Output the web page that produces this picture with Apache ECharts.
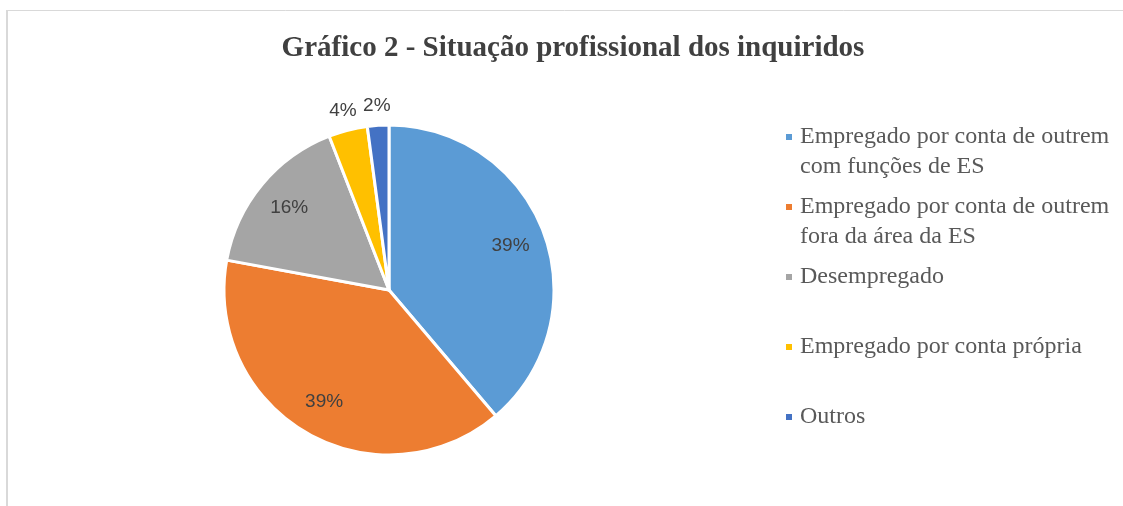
<!DOCTYPE html>
<html>
<head>
  <meta charset="UTF-8">
  <title>Gráfico 2 - Situação profissional dos inquiridos</title>
  <style>
    html, body { margin: 0; padding: 0; background: #fff; }
    #chart { width: 1123px; height: 506px; }
  </style>
  <script src="https://cdn.jsdelivr.net/npm/echarts@6/dist/echarts.min.js"></script>
</head>
<body>
  <div id="chart"></div>
  <script>
    // categories and values (in % of respondents)
    var categories = [
      'Empregado por conta de outrem\ncom funções de ES',
      'Empregado por conta de outrem\nfora da área da ES',
      'Desempregado',
      'Empregado por conta própria',
      'Outros'
    ];
    var values = [38.8, 39.1, 16.2, 3.8, 2.1];
    var colors = ['#5B9BD5', '#ED7D31', '#A5A5A5', '#FFC000', '#4472C4'];
    // which slices get their label outside the pie
    var outsideLabel = [false, false, false, true, true];

    var myChart = echarts.init(document.getElementById('chart'));

    var pieData = categories.map(function (c, i) {
      return { name: c, value: values[i], itemStyle: { color: colors[i] } };
    });

    function labelData(outside) {
      return categories.map(function (c, i) {
        return {
          name: c,
          value: values[i],
          label: { show: outsideLabel[i] === outside }
        };
      });
    }

    var labelStyle = {
      position: 'inside',
      formatter: function (p) { return Math.round(p.percent) + '%'; },
      fontFamily: 'Liberation Sans',
      fontSize: 19,
      color: '#404040'
    };

    var option = {
      backgroundColor: '#fff',
      animation: false,
      title: {
        text: 'Gráfico 2 - Situação profissional dos inquiridos',
        left: 568,
        top: 29,
        textAlign: 'center',
        textStyle: {
          fontFamily: 'Liberation Serif',
          fontWeight: 'bold',
          fontSize: 29,
          color: '#404040'
        }
      },
      legend: {
        orient: 'vertical',
        left: 784,
        top: 92,
        padding: 0,
        itemGap: -20,
        itemWidth: 8,
        itemHeight: 8,
        icon: 'rect',
        selectedMode: false,
        data: categories,
        formatter: function (name) {
          // blank first line keeps the marker on the first text line
          return name.indexOf('\n') < 0 ? '\n' + name + '\n' : '\n' + name;
        },
        textStyle: {
          fontFamily: 'Liberation Serif',
          fontSize: 24,
          lineHeight: 30,
          color: '#595959',
          padding: [0, 0, 0, 2]
        }
      },
      graphic: [
        { type: 'line', shape: { x1: 6, y1: 10.5, x2: 1123, y2: 10.5 },
          style: { stroke: '#d9d9d9', lineWidth: 1 }, silent: true },
        { type: 'line', shape: { x1: 7, y1: 10, x2: 7, y2: 506 },
          style: { stroke: '#d9d9d9', lineWidth: 2 }, silent: true }
      ],
      series: [
        {
          name: 'Situação profissional',
          type: 'pie',
          center: [389, 290],
          radius: [0, 165],
          startAngle: 90,
          clockwise: true,
          avoidLabelOverlap: false,
          label: { show: false },
          labelLine: { show: false },
          itemStyle: { borderColor: '#fff', borderWidth: 3 },
          emphasis: { disabled: true },
          data: pieData
        },
        {
          type: 'pie',
          silent: true,
          legendHoverLink: false,
          center: [389, 290],
          radius: [88, 165],
          startAngle: 90,
          avoidLabelOverlap: false,
          itemStyle: { color: 'rgba(0,0,0,0)' },
          label: labelStyle,
          labelLine: { show: false },
          emphasis: { disabled: true },
          data: labelData(false)
        },
        {
          type: 'pie',
          silent: true,
          legendHoverLink: false,
          center: [389, 290],
          radius: [168, 196],
          startAngle: 90,
          avoidLabelOverlap: false,
          itemStyle: { color: 'rgba(0,0,0,0)' },
          label: labelStyle,
          labelLine: { show: false },
          emphasis: { disabled: true },
          data: labelData(true)
        }
      ]
    };

    myChart.setOption(option);
  </script>
</body>
</html>
